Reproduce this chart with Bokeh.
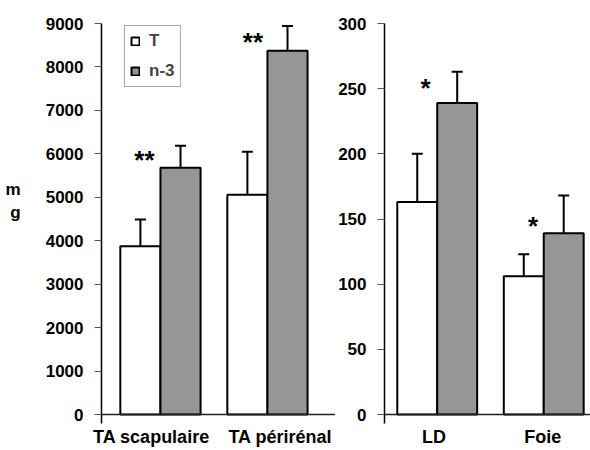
from bokeh.plotting import figure
from bokeh.layouts import row
from bokeh.models import (ColumnDataSource, Whisker, TeeHead, Span,
                          Legend, LegendItem, FixedTicker, Range1d)
from bokeh.core.properties import value
from bokeh.embed import file_html
from bokeh.resources import INLINE

# ---- data ----
left_cats = ["TA scapulaire", "TA périrénal"]
left_T = [3870, 5060]
left_T_err = [620, 990]
left_n3 = [5680, 8370]
left_n3_err = [505, 575]
left_sig = ["**", "**"]
left_sig_y = [6000, 8710]
left_ticks = [0, 1000, 2000, 3000, 4000, 5000, 6000, 7000, 8000, 9000]

right_cats = ["LD", "Foie"]
right_T = [163, 106]
right_T_err = [37, 17]
right_n3 = [239, 139]
right_n3_err = [24, 29]
right_sig = ["*", "*"]
right_sig_y = [255, 149]
right_ticks = [0, 50, 100, 150, 200, 250, 300]

series_names = ["T", "n-3"]
y_unit = "m\ng\n\n"

FONT = "Liberation Sans"
BW = 0.375
GRAY = "#969696"


def panel(cats, T, Terr, n3, n3err, sig, sigy, ticks, xr, yr, width,
          bl, br, sig_dx, lab_dx, legend=False):
    p = figure(width=width, height=450, x_range=Range1d(*xr), y_range=Range1d(*yr),
               output_backend="svg", toolbar_location=None,
               min_border_left=bl, min_border_right=br,
               min_border_top=23, min_border_bottom=27)
    p.outline_line_color = None
    p.grid.visible = False
    p.background_fill_color = "white"

    pos = list(range(len(cats)))
    xT = [i - BW / 2 for i in pos]
    xN = [i + BW / 2 for i in pos]
    sT = ColumnDataSource(dict(x=xT, top=T, upper=[a + b for a, b in zip(T, Terr)]))
    sN = ColumnDataSource(dict(x=xN, top=n3, upper=[a + b for a, b in zip(n3, n3err)]))

    p.add_layout(Span(location=0, dimension="width", line_color="#222222", line_width=1.5))

    for s in (sT, sN):
        p.add_layout(Whisker(base="x", lower="top", upper="upper", source=s,
                             line_color="black", line_width=2, lower_head=None,
                             upper_head=TeeHead(size=11, line_color="black", line_width=2)))
    rT = p.vbar(x="x", top="top", bottom=0, width=BW, source=sT, fill_color="white",
                line_color="black", line_width=2)
    rN = p.vbar(x="x", top="top", bottom=0, width=BW, source=sN, fill_color=GRAY,
                line_color="black", line_width=2)

    sS = ColumnDataSource(dict(x=[i + d for i, d in zip(pos, sig_dx)], y=sigy, t=sig))
    p.text(x="x", y="y", text="t", source=sS, text_font=value(FONT),
           text_font_style="bold", text_font_size="26px", text_align="center",
           text_baseline="middle", text_color="black", y_offset=6)

    yax = p.yaxis[0]
    yax.ticker = FixedTicker(ticks=ticks)
    yax.axis_line_color = "black"
    yax.axis_line_width = 1.5
    yax.major_tick_out = 7
    yax.major_tick_in = 0
    yax.major_tick_line_color = "#555555"
    yax.minor_tick_line_color = None
    yax.major_label_standoff = 11
    yax.major_label_text_font = FONT
    yax.major_label_text_font_style = "bold"
    yax.major_label_text_font_size = "17px"
    yax.major_label_text_color = "black"

    tick_pos = [i + d for i, d in zip(pos, lab_dx)]
    xax = p.xaxis[0]
    xax.ticker = FixedTicker(ticks=tick_pos)
    xax.major_label_overrides = {t: c for t, c in zip(tick_pos, cats)}
    xax.axis_line_color = None
    xax.major_tick_line_color = None
    xax.minor_tick_line_color = None
    xax.major_label_standoff = -3
    xax.major_label_text_font = FONT
    xax.major_label_text_font_style = "bold"
    xax.major_label_text_font_size = "18px"
    xax.major_label_text_color = "black"

    if legend:
        lg = Legend(items=[LegendItem(label=series_names[0], renderers=[rT]),
                           LegendItem(label=series_names[1], renderers=[rN])],
                    location=(23, 336))
        lg.border_line_color = "#555555"
        lg.border_line_width = 1
        lg.background_fill_color = "white"
        lg.background_fill_alpha = 1
        lg.label_text_font = FONT
        lg.label_text_font_style = "bold"
        lg.label_text_font_size = "17px"
        lg.glyph_width = 10
        lg.glyph_height = 10
        lg.label_standoff = 9
        lg.padding = 5
        lg.spacing = 10
        lg.label_height = 20
        lg.margin = 0
        p.add_layout(lg)
    return p


left = panel(left_cats, left_T, left_T_err, left_n3, left_n3_err, left_sig, left_sig_y,
             left_ticks, (-0.551, 1.636), (-207, 9000), 335, 101, 0,
             [-0.15, -0.136], [-0.084, 0.12], legend=True)
left.yaxis[0].axis_label = y_unit
left.yaxis[0].axis_label_orientation = "horizontal"
left.yaxis[0].axis_label_standoff = 22
left.yaxis[0].axis_label_text_font = FONT
left.yaxis[0].axis_label_text_font_style = "bold"
left.yaxis[0].axis_label_text_font_size = "17px"
left.yaxis[0].axis_label_text_color = "black"

right = panel(right_cats, right_T, right_T_err, right_n3, right_n3_err, right_sig, right_sig_y,
              right_ticks, (-0.495, 1.439), (-6.9, 300), 255, 48, 0,
              [-0.11, -0.10], [-0.03, -0.01])

layout = row(left, right, spacing=0)
open("out.html", "w").write(file_html(layout, INLINE))
